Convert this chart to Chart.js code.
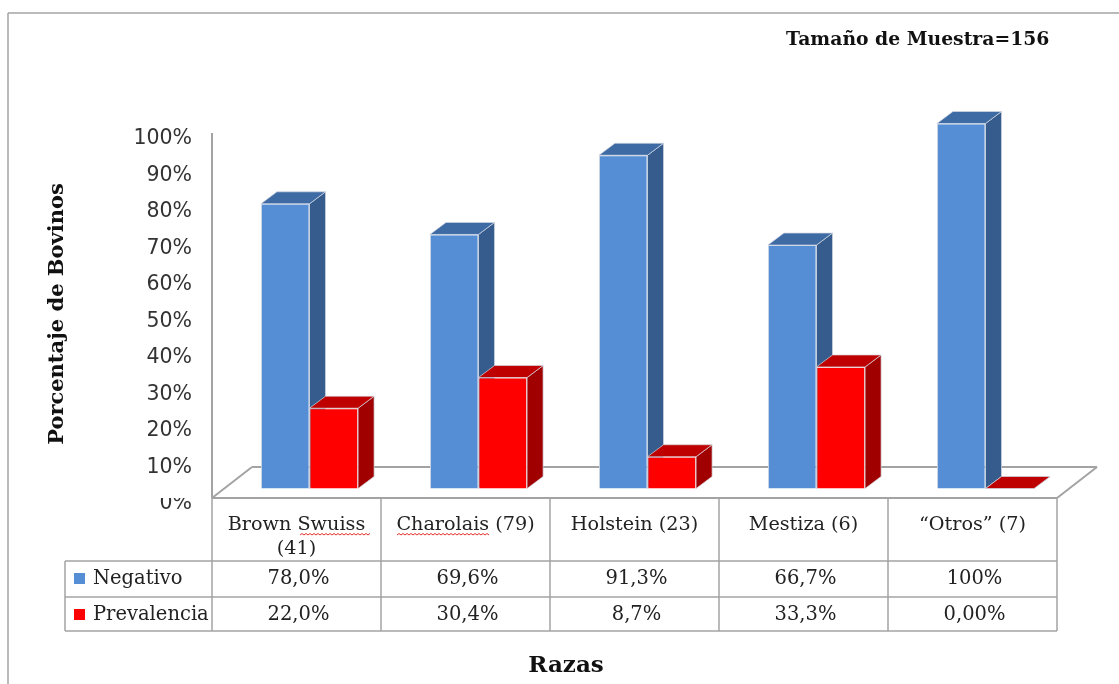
<!DOCTYPE html>
<html>
<head>
  <meta charset="utf-8">
  <title>Prevalencia por razas</title>
  <script src="https://cdn.jsdelivr.net/npm/chart.js"></script>
  <style>
    body { margin: 0; background: #fff; }
    canvas { display: block; }
  </style>
</head>
<body>
  <canvas id="razas" width="1119" height="684"></canvas>

  <script>
    const categorias = [['Brown Swuiss', '(41)'], 'Charolais (79)', 'Holstein (23)', 'Mestiza (6)', '“Otros” (7)'];
    const negativo = [78.0, 69.6, 91.3, 66.7, 100];
    const prevalencia = [22.0, 30.4, 8.7, 33.3, 0];
    const negativoTexto = ['78,0%', '69,6%', '91,3%', '66,7%', '100%'];
    const prevalenciaTexto = ['22,0%', '30,4%', '8,7%', '33,3%', '0,00%'];
    const tituloMuestra = 'Tamaño de Muestra=156';
    const tituloX = 'Razas';
    const tituloY = 'Porcentaje de Bovinos';

    const serif = '"DejaVu Serif", serif';
    const gris = '#a3a3a3';
    const azul = { front: '#558ed5', top: '#3f6ba5', side: '#365c8d' };
    const rojo = { front: '#ff0000', top: '#bf0000', side: '#a00000' };

    // the bars sit inside the floor, the axes stay on the front edge
    const shiftX = 13, shiftY = -15.5;
    const depthX = 16, depthY = -12;

    function poly(ctx, pts, fill) {
      ctx.beginPath();
      pts.forEach((p, i) => i ? ctx.lineTo(p[0], p[1]) : ctx.moveTo(p[0], p[1]));
      ctx.closePath();
      ctx.fillStyle = fill;
      ctx.fill();
      ctx.strokeStyle = 'rgba(210,215,225,0.7)';
      ctx.lineWidth = 1;
      ctx.stroke();
    }

    function line(ctx, x1, y1, x2, y2, w) {
      ctx.beginPath();
      ctx.moveTo(x1, y1);
      ctx.lineTo(x2, y2);
      ctx.strokeStyle = gris;
      ctx.lineWidth = w || 1.5;
      ctx.stroke();
    }

    function squiggle(ctx, x1, x2, y) {
      ctx.beginPath();
      ctx.moveTo(x1, y);
      for (let x = x1, up = true; x < x2; x += 2, up = !up) ctx.lineTo(x + 2, up ? y - 1.5 : y);
      ctx.strokeStyle = '#e0302a';
      ctx.lineWidth = 1;
      ctx.stroke();
    }

    const cubos = {
      id: 'cubos',
      beforeDatasetsDraw(chart) {
        const { ctx, scales: { x, y } } = chart;
        const floorY = y.getPixelForValue(0) - 6;

        // frame
        line(ctx, 8, 13, 1119, 13);
        line(ctx, 8, 13, 8, 684);

        // wall axis and floor
        line(ctx, x.left, 133, x.left, floorY, 2);
        line(ctx, x.left, floorY, x.left + 40, 467, 2);
        line(ctx, x.left + 40, 467, x.right + 40, 467, 2);
        line(ctx, x.right + 40, 467, x.right, floorY, 2);

        ctx.save();
        ctx.translate(shiftX, shiftY);
        [0, 1].forEach(d => {
          const colors = d ? rojo : azul;
          chart.getDatasetMeta(d).data.forEach(bar => {
            const l = bar.x - bar.width / 2, r = bar.x + bar.width / 2;
            poly(ctx, [[r, bar.y], [r + depthX, bar.y + depthY], [r + depthX, bar.base + depthY], [r, bar.base]], colors.side);
            poly(ctx, [[l, bar.y], [l + depthX, bar.y + depthY], [r + depthX, bar.y + depthY], [r, bar.y]], colors.top);
          });
        });
      },
      afterDatasetsDraw(chart) {
        chart.ctx.restore();
      },
      afterDraw(chart) {
        const { ctx, scales: { x, y } } = chart;
        const floorY = y.getPixelForValue(0) - 6;
        const rows = [561, 597, 631];
        const step = (x.right - x.left) / categorias.length;

        // the table cuts the top of the 0% label
        ctx.fillStyle = '#fff';
        ctx.fillRect(130, floorY - 6, x.left - 131, 6);

        line(ctx, x.left, floorY, x.right, floorY, 2);
        rows.forEach(r => line(ctx, 65, r, x.right, r));
        line(ctx, 65, rows[0], 65, rows[2]);
        for (let i = 0; i <= categorias.length; i++) {
          line(ctx, x.left + i * step, floorY, x.left + i * step, rows[2]);
        }

        ctx.textBaseline = 'middle';
        ctx.fillStyle = '#222';
        ctx.font = '19.5px ' + serif;
        ctx.textAlign = 'center';
        categorias.forEach((c, i) => {
          const cx = x.getPixelForTick(i) + 2;
          ctx.fillText(negativoTexto[i], cx, 579);
          ctx.fillText(prevalenciaTexto[i], cx, 615);
        });
        ctx.textAlign = 'left';
        ctx.fillText('Negativo', 93, 579);
        ctx.fillText('Prevalencia', 93, 615);
        ctx.fillStyle = azul.front;
        ctx.fillRect(74, 573, 11, 11);
        ctx.fillStyle = rojo.front;
        ctx.fillRect(74, 609, 11, 11);

        squiggle(ctx, 300, 369, 535);
        squiggle(ctx, 397, 489, 535);

        ctx.fillStyle = '#111';
        ctx.font = 'bold 18.8px ' + serif;
        ctx.fillText(tituloMuestra, 786, 40);
        ctx.textAlign = 'center';
        ctx.font = 'bold 23px ' + serif;
        ctx.fillText(tituloX, 566, 666);

        // y title sits above the middle of the axis, so it is not the native one
        ctx.save();
        ctx.translate(58, 314);
        ctx.rotate(-Math.PI / 2);
        ctx.font = 'bold 21px ' + serif;
        ctx.fillText(tituloY, 0, 0);
        ctx.restore();
      }
    };

    new Chart(document.getElementById('razas'), {
      type: 'bar',
      data: {
        labels: categorias,
        datasets: [
          { label: 'Negativo', data: negativo, backgroundColor: azul.front, borderColor: '#cfd8e6', borderWidth: 1 },
          { label: 'Prevalencia', data: prevalencia, backgroundColor: rojo.front, borderColor: '#f0d0d0', borderWidth: 1 }
        ]
      },
      plugins: [cubos],
      options: {
        responsive: false,
        animation: false,
        clip: false,
        datasets: { bar: { barPercentage: 1, categoryPercentage: 0.575 } },
        layout: { padding: { left: 46, right: 62, top: 139, bottom: 0 } },
        plugins: { legend: { display: false }, tooltip: { enabled: false } },
        scales: {
          x: {
            grid: { display: false, drawTicks: false },
            border: { display: false },
            afterFit(scale) { scale.height = 180; },
            ticks: { color: '#222', font: { family: serif, size: 19.2, lineHeight: 1.25 }, padding: 9, maxRotation: 0, autoSkip: false }
          },
          y: {
            min: 0,
            max: 100,
            grid: { display: false, drawTicks: false },
            border: { display: false },
            afterFit(scale) { scale.width = 166; },
            ticks: {
              stepSize: 10,
              padding: 20,
              color: '#333',
              font: { family: '"DejaVu Sans", sans-serif', size: 20.5 },
              callback: v => v + '%'
            }
          }
        }
      }
    });
  </script>
</body>
</html>
